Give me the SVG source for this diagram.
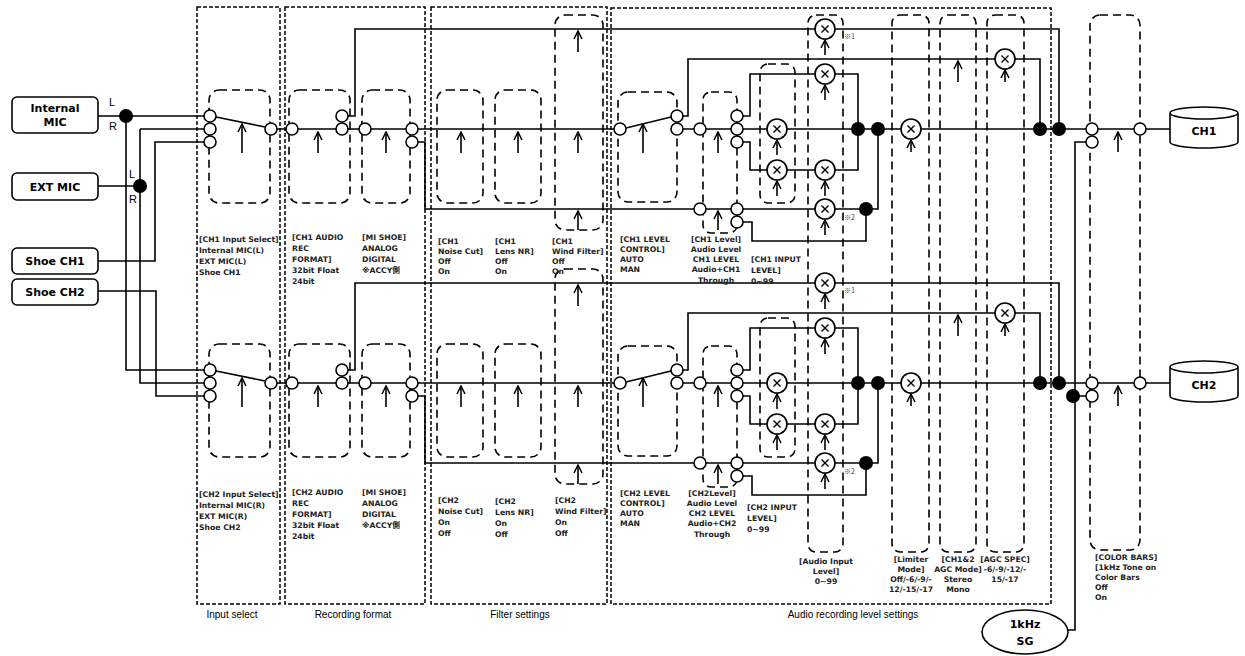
<svg xmlns="http://www.w3.org/2000/svg" xmlns:xlink="http://www.w3.org/1999/xlink" width="1245" height="656" viewBox="0 0 1245 656">
<style>
.w{fill:none;stroke:#000;stroke-width:1.6}
.c{fill:#fff;stroke:#000;stroke-width:1.6}
.d{fill:#000}
.sec{fill:none;stroke:#000;stroke-width:1.5;stroke-dasharray:4 2}
.bx{fill:none;stroke:#000;stroke-width:1.6;stroke-dasharray:8 5}
.ar{fill:none;stroke:#000;stroke-width:1.6;marker-end:url(#ah)}
.t{font-family:"DejaVu Sans","Noto Sans CJK JP",sans-serif;font-weight:bold;font-size:7.7px;fill:#222}
.tm{text-anchor:middle}
.n{font-family:"DejaVu Sans",Verdana,sans-serif;font-weight:bold;font-size:11px;text-anchor:middle}
.s{font-family:"Liberation Sans",Arial,sans-serif;font-size:10px;text-anchor:middle}
.x{font-family:"Noto Sans CJK JP",sans-serif;font-size:7px;fill:#444}
</style>
<defs>
<marker id="ah" viewBox="0 0 10 10" refX="9" refY="5" markerUnits="userSpaceOnUse" markerWidth="10" markerHeight="10" orient="auto"><path d="M1,1 L9,5 L1,9" fill="none" stroke="#000" stroke-width="1.5"/></marker>
<g id="mx"><circle r="10" class="c"/><path d="M-3.5,-3.5 L3.5,3.5 M3.5,-3.5 L-3.5,3.5" stroke="#000" stroke-width="1.4"/></g>
<g id="chan">
<g class="bx">
<rect x="209" y="90" width="61" height="113" rx="10"/><rect x="289" y="90" width="61" height="113" rx="10"/><rect x="362" y="90" width="48" height="113" rx="10"/>
<rect x="437" y="90" width="46" height="113" rx="10"/><rect x="495" y="90" width="46" height="113" rx="10"/><rect x="555" y="15" width="48" height="215" rx="10"/>
<rect x="618" y="92" width="59" height="110" rx="10"/><rect x="703" y="92" width="34" height="141" rx="8"/><rect x="760" y="64" width="35" height="139" rx="8"/>
</g>
<path class="w" d="M216,117 L265,127 M277,129 H286 M298,129 H336 M348,116 H355 V29 H815 M835,29 H1059 V129 M348,129 H359 M371,129 H406 M418,129 H614 M418,142 H425 V209 H694 M626,128 L671,117 M683,116 H688 V59 H995 M1015,59 H1040 V129 M683,129 H694 M706,129 H731 M743,116 H750 V74 H815 M835,74 H858 V129 M743,129 H767 M787,129 H901 M921,129 H1086 M743,142 H750 V170 H767 M787,170 H815 M835,170 H858 V129 M706,209 H731 M743,209 H815 M835,209 H866 M743,222 H752 V241 H866 V209 M866,209 H878 V129 M1098,129 H1134 M1146,129 H1170"/>
<g class="ar">
<path d="M242,153 V124"/><path d="M318,153 V132"/><path d="M386,153 V132"/><path d="M461,153 V132"/><path d="M518,153 V132"/><path d="M578,153 V132"/><path d="M578,52 V31"/><path d="M578,230 V211"/><path d="M643,153 V124"/><path d="M718,153 V132"/><path d="M718,230 V211"/><path d="M777,155 V140"/><path d="M777,196 V181"/><path d="M825,55 V40"/><path d="M825,100 V85"/><path d="M825,196 V181"/><path d="M825,235 V220"/><path d="M911,152 V140"/><path d="M958,82 V61"/><path d="M1005,82 V70"/><path d="M1118,152 V132"/>
</g>
<g class="c">
<circle cx="210" cy="116" r="6"/><circle cx="210" cy="129" r="6"/><circle cx="210" cy="142" r="6"/><circle cx="271" cy="129" r="6"/><circle cx="292" cy="129" r="6"/><circle cx="342" cy="116" r="6"/><circle cx="342" cy="129" r="6"/><circle cx="365" cy="129" r="6"/><circle cx="412" cy="129" r="6"/><circle cx="412" cy="142" r="6"/><circle cx="620" cy="129" r="6"/><circle cx="677" cy="116" r="6"/><circle cx="677" cy="129" r="6"/><circle cx="700" cy="129" r="6"/><circle cx="737" cy="116" r="6"/><circle cx="737" cy="129" r="6"/><circle cx="737" cy="142" r="6"/><circle cx="700" cy="209" r="6"/><circle cx="737" cy="209" r="6"/><circle cx="737" cy="222" r="6"/><circle cx="1092" cy="129" r="6"/><circle cx="1092" cy="142" r="6"/><circle cx="1140" cy="129" r="6"/>
</g>
<use href="#mx" x="825" y="29"/><use href="#mx" x="825" y="74"/><use href="#mx" x="777" y="129"/><use href="#mx" x="777" y="170"/><use href="#mx" x="825" y="170"/><use href="#mx" x="825" y="209"/><use href="#mx" x="911" y="129"/><use href="#mx" x="1005" y="59"/>
<g class="d"><circle cx="858" cy="129" r="7"/><circle cx="878" cy="129" r="7"/><circle cx="866" cy="209" r="7"/><circle cx="1040" cy="129" r="7"/><circle cx="1059" cy="129" r="7"/></g>
<text class="x" x="844" y="39">※1</text><text class="x" x="844" y="220">※2</text>
</g>
</defs>
<rect width="1245" height="656" fill="#fff"/>
<g id="sections">
<rect class="sec" x="197" y="7" width="83" height="597"/>
<rect class="sec" x="285" y="7" width="140" height="597"/>
<rect class="sec" x="431" y="7" width="176" height="597"/>
<rect class="sec" x="611" y="8" width="440" height="596"/>
<text class="s" x="232" y="618">Input select</text>
<text class="s" x="353" y="618">Recording format</text>
<text class="s" x="520" y="618">Filter settings</text>
<text class="s" x="853" y="618">Audio recording level settings</text>
</g>
<g id="tall-boxes" class="bx">
<rect x="808" y="15" width="35" height="537" rx="8"/><rect x="892" y="15" width="37" height="537" rx="8"/><rect x="940" y="15" width="36" height="537" rx="8"/><rect x="987" y="15" width="37" height="537" rx="8"/><rect x="1090" y="15" width="50" height="535" rx="10"/>
</g>
<g id="connectors">
<path class="w" d="M98,116 H204 M126,116 V370 H204 M98,186 H140 M140,129 V383 H204 M140,129 H204 M98,261 H155 V142 H204 M98,291 H156 V396 H204 M1086,142 H1075 V630 H1068 M1073,396 H1086"/>
<circle class="d" cx="126" cy="116" r="7"/><circle class="d" cx="140" cy="186" r="7"/><circle class="d" cx="1073" cy="396" r="7"/>
<text x="109" y="106" font-family="Liberation Sans,sans-serif" font-size="11">L</text><text x="109" y="130" font-family="Liberation Sans,sans-serif" font-size="11">R</text>
<text x="129" y="178" font-family="Liberation Sans,sans-serif" font-size="11">L</text><text x="129" y="203" font-family="Liberation Sans,sans-serif" font-size="11">R</text>
</g>
<g id="ch1-path"><use href="#chan"/></g>
<g id="ch2-path"><use href="#chan" y="254"/></g>
<g id="internal-mic"><rect class="c" x="12" y="97" width="86" height="36" rx="5"/><text class="n" x="55" y="112">Internal</text><text class="n" x="55" y="126">MIC</text></g>
<g id="ext-mic"><rect class="c" x="12" y="173" width="86" height="27" rx="5"/><text class="n" x="55" y="191">EXT MIC</text></g>
<g id="shoe-ch1"><rect class="c" x="12" y="248" width="86" height="26" rx="5"/><text class="n" x="55" y="265">Shoe CH1</text></g>
<g id="shoe-ch2"><rect class="c" x="12" y="279" width="86" height="26" rx="5"/><text class="n" x="55" y="296">Shoe CH2</text></g>
<g id="ch1-out"><path class="c" d="M1170,113 V142 A34,6 0 0 0 1238,142 V113 A34,6 0 0 0 1170,113 Z M1170,113 A34,6 0 0 0 1238,113"/><text class="n" x="1204" y="135" font-size="12">CH1</text></g>
<g id="ch2-out"><path class="c" d="M1170,367 V396 A34,6 0 0 0 1238,396 V367 A34,6 0 0 0 1170,367 Z M1170,367 A34,6 0 0 0 1238,367"/><text class="n" x="1204" y="389" font-size="12">CH2</text></g>
<g id="sg"><ellipse class="c" cx="1025" cy="632" rx="43" ry="22"/><text class="n" x="1025" y="628" font-size="14">1kHz</text><text class="n" x="1025" y="645" font-size="14">SG</text></g>
<g id="labels" class="t">
<text x="199" y="242">[CH1 Input Select]</text><text x="199" y="253">Internal MIC(L)</text><text x="199" y="264">EXT MIC(L)</text><text x="199" y="275">Shoe CH1</text>
<text x="292" y="240">[CH1 AUDIO</text><text x="292" y="251">REC</text><text x="292" y="262">FORMAT]</text><text x="292" y="273">32bit Float</text><text x="292" y="284">24bit</text>
<text x="362" y="240">[MI SHOE]</text><text x="362" y="251">ANALOG</text><text x="362" y="262">DIGITAL</text><text x="362" y="273">※ACCY側</text>
<text x="438" y="244">[CH1</text><text x="438" y="254">Noise Cut]</text><text x="438" y="264">Off</text><text x="438" y="274">On</text>
<text x="495" y="244">[CH1</text><text x="495" y="254">Lens NR]</text><text x="495" y="264">Off</text><text x="495" y="274">On</text>
<text x="552" y="244">[CH1</text><text x="552" y="254">Wind Filter]</text><text x="552" y="264">Off</text><text x="552" y="274">On</text>
<text x="620" y="242">[CH1 LEVEL</text><text x="620" y="252">CONTROL]</text><text x="620" y="262">AUTO</text><text x="620" y="272">MAN</text>
<g class="tm"><text x="716" y="242">[CH1 Level]</text><text x="716" y="252">Audio Level</text><text x="716" y="262">CH1 LEVEL</text><text x="716" y="272">Audio+CH1</text><text x="716" y="283">Through</text></g>
<text x="751" y="262">[CH1 INPUT</text><text x="751" y="273">LEVEL]</text><text x="751" y="284">0~99</text>
<text x="199" y="497">[CH2 Input Select]</text><text x="199" y="508">Internal MIC(R)</text><text x="199" y="519">EXT MIC(R)</text><text x="199" y="530">Shoe CH2</text>
<text x="292" y="495">[CH2 AUDIO</text><text x="292" y="506">REC</text><text x="292" y="517">FORMAT]</text><text x="292" y="528">32bit Float</text><text x="292" y="539">24bit</text>
<text x="362" y="495">[MI SHOE]</text><text x="362" y="506">ANALOG</text><text x="362" y="517">DIGITAL</text><text x="362" y="528">※ACCY側</text>
<text x="438" y="503">[CH2</text><text x="438" y="514">Noise Cut]</text><text x="438" y="525">On</text><text x="438" y="536">Off</text>
<text x="495" y="504">[CH2</text><text x="495" y="515">Lens NR]</text><text x="495" y="526">On</text><text x="495" y="537">Off</text>
<text x="555" y="503">[CH2</text><text x="555" y="514">Wind Filter]</text><text x="555" y="525">On</text><text x="555" y="536">Off</text>
<text x="620" y="496">[CH2 LEVEL</text><text x="620" y="506">CONTROL]</text><text x="620" y="516">AUTO</text><text x="620" y="526">MAN</text>
<g class="tm"><text x="712" y="496">[CH2Level]</text><text x="712" y="506">Audio Level</text><text x="712" y="516">CH2 LEVEL</text><text x="712" y="526">Audio+CH2</text><text x="712" y="537">Through</text></g>
<text x="747" y="510">[CH2 INPUT</text><text x="747" y="521">LEVEL]</text><text x="747" y="532">0~99</text>
<g class="tm">
<text x="826" y="564">[Audio Input</text><text x="826" y="574">Level]</text><text x="826" y="584">0~99</text>
<text x="911" y="562">[Limiter</text><text x="911" y="572">Mode]</text><text x="911" y="582">Off/-6/-9/-</text><text x="911" y="592">12/-15/-17</text>
<text x="958" y="562">[CH1&amp;2</text><text x="958" y="572">AGC Mode]</text><text x="958" y="582">Stereo</text><text x="958" y="592">Mono</text>
<text x="1005" y="562">[AGC SPEC]</text><text x="1005" y="572">-6/-9/-12/-</text><text x="1005" y="582">15/-17</text>
</g>
<text x="1095" y="560">[COLOR BARS]</text><text x="1095" y="570">[1kHz Tone on</text><text x="1095" y="580">Color Bars</text><text x="1095" y="590">Off</text><text x="1095" y="600">On</text>
</g>
</svg>
